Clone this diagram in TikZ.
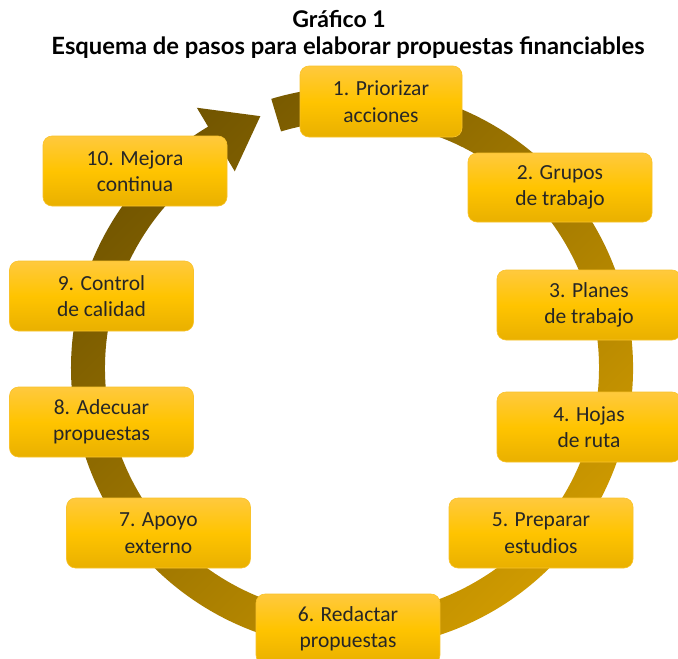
\documentclass[tikz,border=0pt]{standalone}
\usepackage{fontspec}
\setmainfont{Carlito}
\newfontfamily\titlefont{Lato}
\definecolor{ringdark}{HTML}{6F5300}
\definecolor{ringlight}{HTML}{D49E00}
\definecolor{boxtop}{HTML}{FFC93E}
\definecolor{boxmid}{HTML}{FFC400}
\definecolor{boxbot}{HTML}{E9B000}
\definecolor{boxedge}{HTML}{F9C22A}
\definecolor{txt}{HTML}{262626}
\begin{document}
\begin{tikzpicture}[x=1pt,y=1pt,
  stepbox/.style={rounded corners=9pt, top color=boxtop, bottom color=boxbot, middle color=boxmid,
    draw=boxedge, line width=0.6pt, minimum width=184pt, minimum height=70pt, inner sep=0pt,
    align=center, text=txt, font=\fontsize{21.5}{26.5}\selectfont},
  ttl/.style={font=\titlefont\bfseries\fontsize{21}{24}\selectfont, text=black, inner sep=0pt, anchor=base}]
\useasboundingbox (0,0) rectangle (678,-659);
\fill[white] (0,0) rectangle (678,-659);
\coordinate (c) at (352,-368);
\begin{scope}[shift={(c)}]
\shade[top color=ringdark, bottom color=ringlight, shading angle=45]
  (106.7:281) arc[start angle=106.7, end angle=-239.2, radius=281]
  -- (-239.2:303) -- (-250:268) -- (-239.2:229)
  -- (-239.2:247) arc[start angle=-239.2, end angle=106.7, radius=247] -- cycle;
\end{scope}
\node[ttl, font=\titlefont\bfseries\fontsize{23}{26}\selectfont] (t1) at (339,-27) {Gráfico 1};
\node[ttl] (t2) at (348,-54) {\resizebox{593pt}{!}{Esquema de pasos para elaborar propuestas financiables}};
\node[stepbox, minimum width=162pt, minimum height=71pt] (b1) at (381,-101.5) {1. Priorizar\\acciones};
\node[stepbox, minimum height=69pt] (b2) at (560,-187.5) {2. Grupos\\de trabajo};
\node[stepbox] (b3) at (589,-305) {3. Planes\\de trabajo};
\node[stepbox] (b4) at (589,-427) {4. Hojas\\de ruta};
\node[stepbox] (b5) at (541,-533) {5. Preparar\\estudios};
\node[stepbox] (b6) at (348,-629) {6. Redactar\\propuestas};
\node[stepbox] (b7) at (158.5,-533) {7. Apoyo\\externo};
\node[stepbox] (b8) at (101.5,-422) {8. Adecuar\\propuestas};
\node[stepbox] (b9) at (101.5,-296) {9. Control\\de calidad};
\node[stepbox] (b10) at (135,-171) {10. Mejora\\continua};
\end{tikzpicture}
\end{document}
